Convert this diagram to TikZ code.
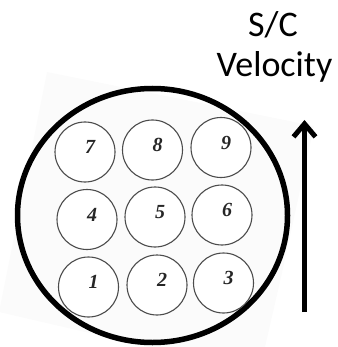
\documentclass[tikz,border=0pt]{standalone}
\usepackage{fontspec}
\setmainfont{Liberation Serif}
\newfontfamily\labelfont{Carlito}
\usetikzlibrary{arrows.meta,calc}
\tikzset{
  ring/.style={circle, draw=black!70, line width=1.1pt, fill=white, minimum size=60pt, inner sep=0pt},
  digit/.style={font=\fontsize{20}{20}\selectfont\bfseries\itshape, text=black!85, inner sep=0pt},
  caption/.style={font=\labelfont\fontsize{36}{36}\selectfont, anchor=base, inner sep=0pt},
}
\begin{document}
\begin{tikzpicture}[x=1pt,y=-1pt]
\useasboundingbox (0,0) rectangle (337,347);
% faint scanned background
\fill[black!1.5] (47,72) -- (314,126) -- (282,273) -- (265,347) -- (150,347) -- (-1,312) -- cycle;
% outer ring
\draw[line width=5.5pt] (152.5,215.5) ellipse [x radius=135, y radius=127];
% detectors
\node[ring] (c7) at (85,152) {};
\node[ring] (c8) at (152.5,150) {};
\node[ring] (c9) at (221,147.5) {};
\node[ring] (c4) at (87,219.5) {};
\node[ring] (c5) at (155,217) {};
\node[ring] (c6) at (222,215) {};
\node[ring] (c1) at (88.5,287) {};
\node[ring] (c2) at (157,285) {};
\node[ring] (c3) at (223.5,283) {};
\foreach \i in {1,...,9}{
  \node[digit] (d\i) at ($(c\i)+(5,-5)$) {\i};
}
% velocity
\node[caption] (sc) at (273,37) {S/C};
\node[caption] (vel) at (274.5,77) {Velocity};
\coordinate (abot) at (304.5,312);
\coordinate (atop) at (304.5,120);
\draw[line width=5pt, -{Straight Barb[length=13pt, width=22pt]}] (abot) -- (atop);
\end{tikzpicture}
\end{document}
